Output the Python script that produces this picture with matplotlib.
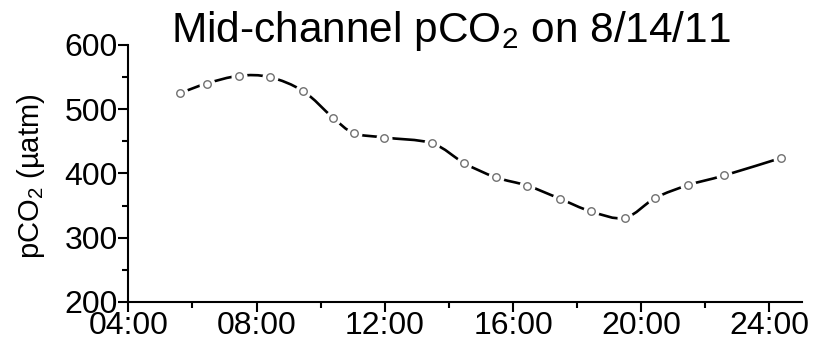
import numpy as np
import matplotlib
matplotlib.use("Agg")
import matplotlib.pyplot as plt
from matplotlib.path import Path
from matplotlib.patches import PathPatch
from matplotlib.ticker import MultipleLocator, FuncFormatter

# --- data (time in decimal hours, pCO2 in uatm) ---
hours = [5.61, 6.44, 7.45, 8.41, 9.46, 10.38, 11.03, 11.98, 13.47, 14.48,
         15.46, 16.45, 17.45, 18.43, 19.49, 20.44, 21.47, 22.59, 24.35]
pco2 = [525, 540, 552, 550, 528, 487, 463, 456, 447, 416,
        394, 381, 361, 341, 331, 362, 382, 397, 424]

plt.rcParams['font.family'] = ['Liberation Sans', 'DejaVu Sans']
plt.rcParams['mathtext.fontset'] = 'custom'
plt.rcParams['mathtext.rm'] = 'Liberation Sans'
plt.rcParams['mathtext.it'] = 'Liberation Sans:italic'
plt.rcParams['mathtext.default'] = 'rm'

fig = plt.figure(figsize=(8.19, 3.48), dpi=100)
ax = fig.add_axes([0.1567, 0.1322, 0.822, 0.7385])

# smooth curve through the points (Catmull-Rom -> cubic Bezier)
x = np.array(hours, dtype=float)
y = np.array(pco2, dtype=float)
n = len(x)
verts = [(x[0], y[0])]
codes = [Path.MOVETO]
for i in range(n - 1):
    p0 = np.array([x[max(i - 1, 0)], y[max(i - 1, 0)]])
    p1 = np.array([x[i], y[i]])
    p2 = np.array([x[i + 1], y[i + 1]])
    p3 = np.array([x[min(i + 2, n - 1)], y[min(i + 2, n - 1)]])
    c1 = p1 + (p2 - p0) / 6.0
    c2 = p2 - (p3 - p1) / 6.0
    verts += [tuple(c1), tuple(c2), tuple(p2)]
    codes += [Path.CURVE4, Path.CURVE4, Path.CURVE4]
ax.add_patch(PathPatch(Path(verts, codes), facecolor='none',
                       edgecolor='black', lw=1.9, zorder=2))

# white halo to break the line at each point, then open grey circles
ax.plot(hours, pco2, ls='none', marker='o', ms=10.5, mfc='white',
        mec='white', zorder=3)
ax.plot(hours, pco2, ls='none', marker='o', ms=5.4, mfc='white',
        mec='#707070', mew=1.0, zorder=4)

ax.set_xlim(4, 25)
ax.set_ylim(200, 600)
ax.xaxis.set_major_locator(MultipleLocator(4))
ax.xaxis.set_minor_locator(MultipleLocator(2))
ax.xaxis.set_major_formatter(FuncFormatter(lambda v, p: f"{int(round(v)):02d}:00"))
ax.yaxis.set_major_locator(MultipleLocator(100))
ax.yaxis.set_minor_locator(MultipleLocator(50))

for s in ['top', 'right']:
    ax.spines[s].set_visible(False)
for s in ['left', 'bottom']:
    ax.spines[s].set_linewidth(1.5)
ax.tick_params(which='major', direction='out', length=7, width=1.5,
               labelsize=23)
ax.tick_params(which='minor', direction='out', length=4.5, width=1.5)
ax.tick_params(axis='x', which='major', pad=-0.5)
ax.tick_params(axis='y', which='major', pad=0.5)

ax.set_ylabel('pCO$_2$ (µatm)', fontsize=21)
ax.yaxis.set_label_coords(-0.121, 0.49)
fig.text(0.551, 0.879, 'Mid-channel pCO$_2$ on 8/14/11', fontsize=30.5,
         ha='center', va='baseline')

plt.savefig('out.png', dpi=100)
